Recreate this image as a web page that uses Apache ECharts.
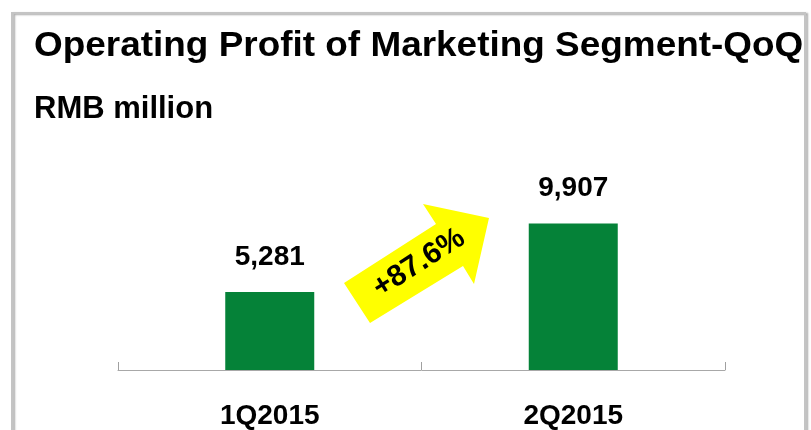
<!DOCTYPE html>
<html>
<head>
<meta charset="utf-8">
<script src="https://cdn.jsdelivr.net/npm/echarts@6/dist/echarts.min.js"></script>
<style>
  html, body { margin: 0; padding: 0; background: #fff; }
  #chart { width: 811px; height: 430px; }
</style>
</head>
<body>
<div id="chart"></div>
<script>
const categories = ['1Q2015', '2Q2015']
const profitValues = [5281, 9907]
const growthLabel = '+87.6%'
const titleText = 'Operating Profit of Marketing Segment-QoQ'
const unitText = 'RMB million'

const FONT = "'Liberation Sans', Arial, sans-serif"
const chart = echarts.init(document.getElementById('chart'))

chart.setOption({
  animation: false,
  backgroundColor: '#ffffff',
  grid: { left: 118, right: 86, top: 163, bottom: 58 },
  xAxis: {
    type: 'category',
    data: categories,
    axisLine: { lineStyle: { color: '#a8a8a8', width: 1 } },
    axisTick: {
      show: true,
      inside: true,
      length: 8,
      lineStyle: { color: '#a0a0a0', width: 1 }
    },
    axisLabel: {
      margin: 32,
      color: '#000',
      fontFamily: FONT,
      fontWeight: 'bold',
      fontSize: 28
    }
  },
  yAxis: {
    type: 'value',
    min: 0,
    max: 14000,
    show: false
  },
  series: [
    {
      type: 'bar',
      data: profitValues,
      barWidth: 89,
      itemStyle: { color: '#058238' },
      label: {
        show: true,
        position: 'top',
        distance: 21,
        color: '#000',
        fontFamily: FONT,
        fontWeight: 'bold',
        fontSize: 28,
        formatter: (p) => p.value.toLocaleString('en-US')
      }
    }
  ],
  graphic: [
    {
      type: 'rect',
      shape: { x: 12, y: 13, width: 793, height: 500 },
      style: {
        fill: 'none',
        stroke: '#c4c4c4',
        lineWidth: 2,
        shadowColor: 'rgba(0,0,0,0.35)',
        shadowBlur: 2,
        shadowOffsetX: 2,
        shadowOffsetY: 1
      },
      z: 1
    },
    {
      type: 'text',
      x: 34,
      y: 46,
      scaleX: 1.055,
      style: {
        text: titleText,
        font: 'bold 35px ' + FONT,
        fill: '#000',
        verticalAlign: 'middle'
      },
      z: 10
    },
    {
      type: 'text',
      x: 34,
      y: 109,
      style: {
        text: unitText,
        font: 'bold 31px ' + FONT,
        fill: '#000',
        verticalAlign: 'middle'
      },
      z: 10
    },
    {
      type: 'polygon',
      shape: {
        points: [
          [344, 283], [370, 323], [463, 266], [474, 284],
          [489, 218], [423, 204], [436, 224]
        ]
      },
      style: { fill: '#ffff00' },
      z: 5
    },
    {
      type: 'text',
      x: 419,
      y: 263,
      rotation: 32.7 * Math.PI / 180,
      style: {
        text: growthLabel,
        font: 'bold 30px ' + FONT,
        fill: '#000',
        align: 'center',
        verticalAlign: 'middle'
      },
      z: 6
    }
  ]
})
</script>
</body>
</html>
